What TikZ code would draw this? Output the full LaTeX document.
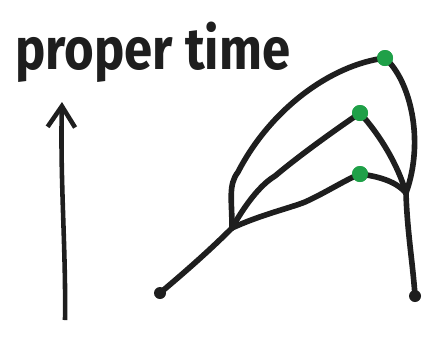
\documentclass[tikz,border=0pt]{standalone}
\usepackage{fontspec}
\setmainfont{Fira Sans}
\usetikzlibrary{arrows.meta}

\begin{document}
\begin{tikzpicture}[x=0.02cm,y=-0.02cm]
    % Define colours
    \definecolor{inkColour}{HTML}{1E1E1E}
    \definecolor{eventColour}{HTML}{1FA048}

    % Define styles
    \tikzset{
      worldline/.style={draw=inkColour, line width=3.2pt, line cap=round, line join=round},
      endpoint/.style={circle, fill=inkColour, inner sep=0pt, minimum size=0.24cm},
      event/.style={circle, fill=eventColour, inner sep=0pt, minimum size=0.32cm}
    }

  % Fix the page size
  \useasboundingbox (0,0) rectangle (435,346);

  % Label and time arrow
  \node[anchor=north west, inner sep=0pt, text=inkColour] (label) at (15,22)
    {\resizebox{5.5cm}{0.95cm}{\bfseries proper time}};
  \coordinate (arrowFoot) at (65,320);
  \coordinate (arrowTip) at (62,102);
  \draw[draw=inkColour, line width=2.6pt, -{Straight Barb[length=0.42cm, width=0.55cm, line width=2.6pt]}]
    (arrowFoot) .. controls (66,250) and (60,180) .. (arrowTip);

  % Define the vertices of the tree
  \node[endpoint] (start) at (160,293) {};
  \node[endpoint] (finish) at (415,296) {};
  \coordinate (split) at (232,228);
  \coordinate (merge) at (406,193);
  \node[event] (top) at (385,58) {};
  \node[event] (mid) at (360,113) {};
  \node[event] (low) at (360,174) {};

  % Draw the branches
  \draw[worldline] (start.center) .. controls (185,272) and (210,250) .. (split);
  \draw[worldline] (split) .. controls (232,200) and (228,185) .. (238,172)
    .. controls (270,110) and (330,65) .. (top.center);
  \draw[worldline] (split) .. controls (245,205) and (260,185) .. (275,176)
    .. controls (300,155) and (335,130) .. (mid.center);
  \draw[worldline] (split) .. controls (260,215) and (290,208) .. (305,202)
    .. controls (325,193) and (345,180) .. (low.center);

  % Draw the paths back to the end point
  \draw[worldline] (top.center) .. controls (410,80) and (425,140) .. (merge);
  \draw[worldline] (mid.center) .. controls (380,135) and (398,165) .. (merge);
  \draw[worldline] (low.center) .. controls (375,176) and (395,180) .. (merge);
  \draw[worldline] (merge) .. controls (407,230) and (413,265) .. (finish.center);

  % Redraw the events on top
  \fill[eventColour] (top) circle (0.16cm);
  \fill[eventColour] (mid) circle (0.16cm);
  \fill[eventColour] (low) circle (0.16cm);

\end{tikzpicture}
\end{document}
